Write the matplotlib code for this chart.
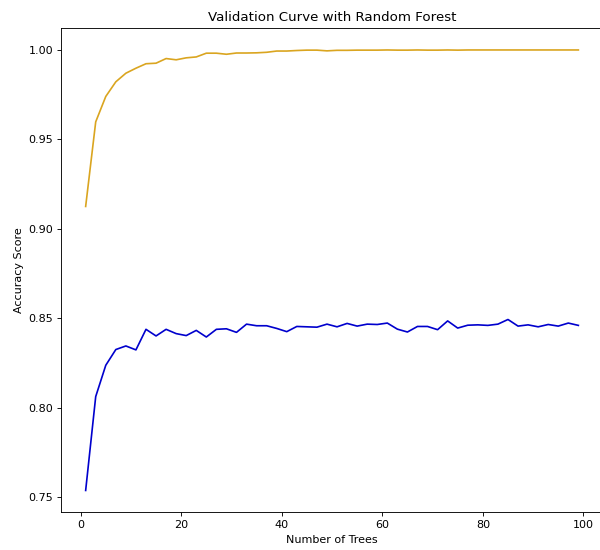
import numpy as np
import matplotlib
matplotlib.use("Agg")
import matplotlib.pyplot as plt

# Number of trees evaluated
n_trees = list(range(1, 100, 2))

# Mean training accuracy per forest size
train_score = [
    0.9125, 0.9598, 0.9740, 0.9822, 0.9870, 0.9898, 0.9923, 0.9926, 0.9952, 0.9945,
    0.9956, 0.9961, 0.9982, 0.9982, 0.9976, 0.9983, 0.9983, 0.9984, 0.9987, 0.9994,
    0.9994, 0.9997, 0.9999, 0.9999, 0.9995, 0.9998, 0.9998, 0.9999, 0.9999, 0.9999,
    1.0000, 0.9999, 0.9999, 1.0000, 0.9999, 0.9999, 1.0000, 0.9999, 1.0000, 1.0000,
    1.0000, 1.0000, 1.0000, 1.0000, 1.0000, 1.0000, 1.0000, 1.0000, 1.0000, 1.0000,
]

# Mean cross-validation accuracy per forest size
test_score = [
    0.7537, 0.8062, 0.8237, 0.8325, 0.8345, 0.8323, 0.8438, 0.8401, 0.8438, 0.8414,
    0.8403, 0.8432, 0.8395, 0.8438, 0.8441, 0.8421, 0.8467, 0.8458, 0.8458, 0.8443,
    0.8425, 0.8454, 0.8452, 0.8450, 0.8467, 0.8452, 0.8471, 0.8456, 0.8467, 0.8465,
    0.8473, 0.8439, 0.8423, 0.8454, 0.8454, 0.8436, 0.8485, 0.8445, 0.8461, 0.8463,
    0.8460, 0.8467, 0.8493, 0.8456, 0.8463, 0.8452, 0.8465, 0.8456, 0.8473, 0.8460,
]

fig = plt.figure(figsize=(7.5, 6.875), dpi=80)
ax = fig.add_axes([0.1017, 0.0682, 0.9033, 0.881])

ax.plot(n_trees, train_score, color="goldenrod", linewidth=1.5)
ax.plot(n_trees, test_score, color="mediumblue", linewidth=1.5)

ax.set_title("Validation Curve with Random Forest")
ax.set_xlabel("Number of Trees")
ax.set_ylabel("Accuracy Score")

fig.savefig("out.png", dpi=80)
